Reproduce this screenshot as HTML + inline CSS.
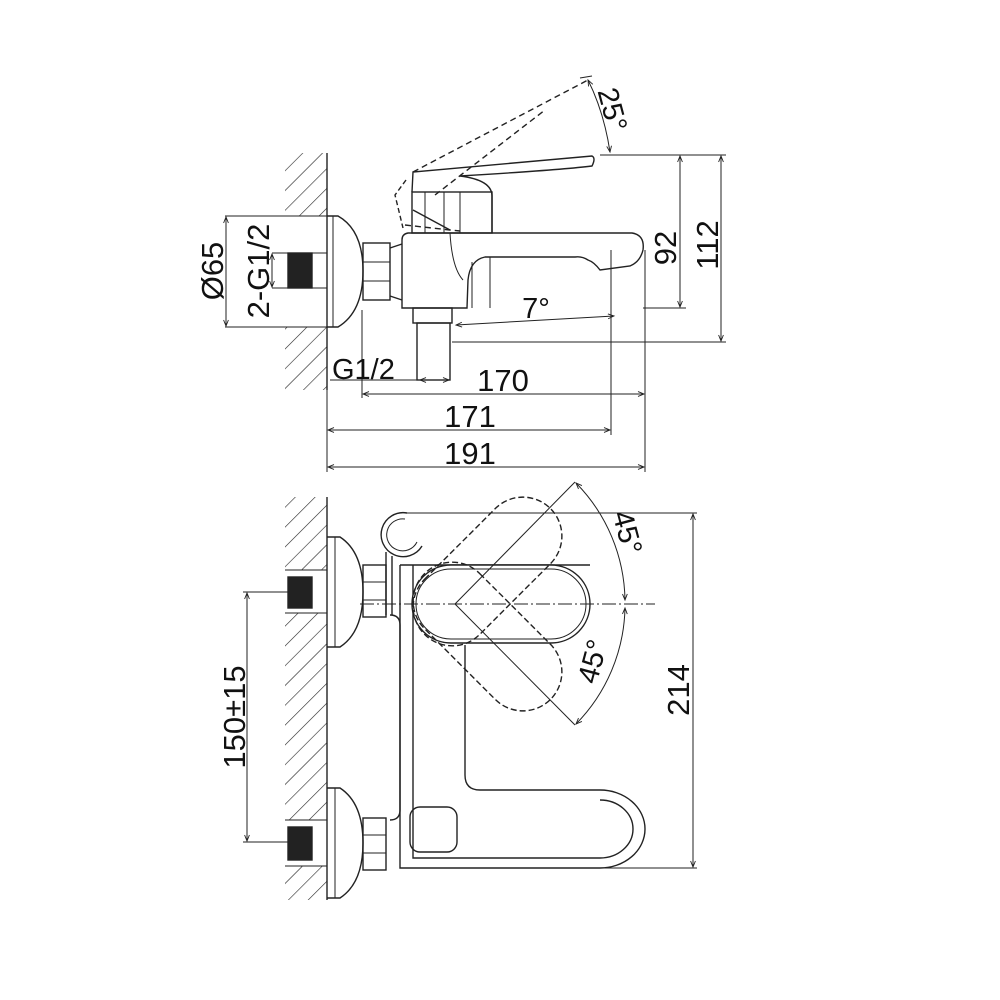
<!DOCTYPE html>
<html><head><meta charset="utf-8"><style>
html,body{margin:0;padding:0;background:#fff;}
svg{display:block}
text{font-family:"Liberation Sans",sans-serif;fill:#111;}
</style></head><body>
<svg width="1000" height="1000" viewBox="0 0 1000 1000" xmlns="http://www.w3.org/2000/svg">
<defs>
<pattern id="h" width="14" height="14" patternUnits="userSpaceOnUse" patternTransform="rotate(45)">
<line x1="0" y1="0" x2="0" y2="14" stroke="#222" stroke-width="1.2"/>
</pattern>
<marker id="a" viewBox="0 0 10 10" refX="10" refY="5" markerWidth="9" markerHeight="6" orient="auto-start-reverse"><path d="M0,1 L10,5 L0,9" fill="none" stroke="#222" stroke-width="1.5"/></marker>
</defs>
<g fill="none" stroke="#222" stroke-width="1.4">
<!-- ===== TOP VIEW ===== -->
<rect x="285" y="153" width="42" height="237" fill="url(#h)" stroke="none"/>
<rect x="285" y="216" width="42" height="111" fill="#fff" stroke="none"/>
<line x1="327" y1="153" x2="327" y2="390"/>
<line x1="285" y1="216" x2="327" y2="216" stroke-width="1"/>
<line x1="285" y1="327" x2="327" y2="327" stroke-width="1"/>
<line x1="272" y1="253" x2="327" y2="253" stroke-width="1"/>
<line x1="272" y1="288" x2="327" y2="288" stroke-width="1"/>
<rect x="288" y="253" width="24" height="35" fill="#222"/>
<path d="M327,216 L338,216 Q363,230 363,271 Q363,312 338,327 L327,327"/>
<line x1="333" y1="216" x2="333" y2="327" stroke-width="1"/>
<rect x="363" y="243" width="27" height="57"/>
<line x1="363" y1="262" x2="390" y2="262" stroke-width="1"/><line x1="363" y1="281" x2="390" y2="281" stroke-width="1"/>
<line x1="390" y1="248" x2="402" y2="244"/><line x1="390" y1="296" x2="402" y2="300"/>
<!-- body -->
<path d="M402,240 Q402,234 408,233 L632,233 Q645,235 643,250 Q640,262 630,266 L600,270 Q594,262 588,260 Q582,256 575,257 L485,257 Q470,260 468,280 L467,308 L402,308 Z"/>
<path d="M450,233 Q452,268 463,280" stroke-width="1"/>
<line x1="472" y1="262" x2="472" y2="308" stroke-width="1"/>
<line x1="490" y1="257" x2="490" y2="308" stroke-width="1"/>
<!-- cartridge & lever -->
<rect x="412" y="192" width="80" height="41"/>
<line x1="425" y1="192" x2="425" y2="233" stroke-width="1"/><line x1="444" y1="192" x2="444" y2="233" stroke-width="1"/><line x1="460" y1="192" x2="460" y2="233" stroke-width="1"/>
<path d="M412,192 L413,172 L592,156 Q596,158 592,166 Q560,170 460,176 Q492,180 492,196 L492,233 M413,210 L450,230"/>
<path d="M406,180 L395,195 L403,228" stroke-dasharray="5,3"/>
<path d="M413,172 L588,80 M435,195 L545,110 M405,225 L450,230 L460,231" stroke-dasharray="6,4"/>
<path d="M588,80 Q604,112 610,152" marker-start="url(#a)" marker-end="url(#a)" stroke-width="1"/>
<line x1="580" y1="78" x2="592" y2="76" stroke-width="1"/>
<!-- diverter -->
<rect x="413" y="308" width="39" height="15"/>
<rect x="417" y="323" width="33" height="57"/>
<!-- dims -->
<g stroke-width="1">
<line x1="600" y1="155" x2="726" y2="155"/>
<line x1="643" y1="308" x2="686" y2="308"/>
<line x1="452" y1="342" x2="726" y2="342"/>
<line x1="680" y1="156" x2="680" y2="307" marker-start="url(#a)" marker-end="url(#a)"/>
<line x1="721" y1="156" x2="721" y2="341" marker-start="url(#a)" marker-end="url(#a)"/>
<line x1="327" y1="390" x2="327" y2="472"/>
<line x1="362" y1="310" x2="362" y2="398"/>
<line x1="611" y1="250" x2="611" y2="435"/>
<line x1="645" y1="250" x2="645" y2="472"/>
<line x1="330" y1="380" x2="450" y2="380"/>
<line x1="420" y1="380" x2="449" y2="380" marker-start="url(#a)" marker-end="url(#a)"/>
<line x1="363" y1="394" x2="644" y2="394" marker-start="url(#a)" marker-end="url(#a)"/>
<line x1="328" y1="430" x2="610" y2="430" marker-start="url(#a)" marker-end="url(#a)"/>
<line x1="328" y1="467" x2="644" y2="467" marker-start="url(#a)" marker-end="url(#a)"/>
<line x1="456" y1="325" x2="614" y2="316" marker-start="url(#a)" marker-end="url(#a)"/>
<line x1="225" y1="216" x2="330" y2="216"/><line x1="225" y1="327" x2="330" y2="327"/>
<line x1="226" y1="217" x2="226" y2="326" marker-start="url(#a)" marker-end="url(#a)"/>
<line x1="272" y1="254" x2="272" y2="287" marker-start="url(#a)" marker-end="url(#a)"/>
</g>
<!-- ===== BOTTOM VIEW ===== -->
<rect x="285" y="497" width="42" height="403" fill="url(#h)" stroke="none"/>
<rect x="285" y="570" width="42" height="43" fill="#fff" stroke="none"/>
<rect x="285" y="820" width="42" height="46" fill="#fff" stroke="none"/>
<line x1="327" y1="497" x2="327" y2="900"/>
<line x1="285" y1="570" x2="327" y2="570" stroke-width="1"/><line x1="285" y1="613" x2="327" y2="613" stroke-width="1"/>
<line x1="285" y1="820" x2="327" y2="820" stroke-width="1"/><line x1="285" y1="866" x2="327" y2="866" stroke-width="1"/>
<rect x="288" y="577" width="24" height="31" fill="#222"/>
<rect x="288" y="827" width="24" height="33" fill="#222"/>
<path d="M327,537 L340,537 Q363,552 363,592 Q363,632 340,647 L327,647"/>
<path d="M327,788 L340,788 Q363,803 363,843 Q363,883 340,898 L327,898"/>
<line x1="335" y1="537" x2="335" y2="647" stroke-width="1"/><line x1="335" y1="788" x2="335" y2="898" stroke-width="1"/>
<rect x="363" y="565" width="23" height="52"/><rect x="363" y="818" width="23" height="52"/>
<line x1="363" y1="582" x2="386" y2="582" stroke-width="1"/><line x1="363" y1="600" x2="386" y2="600" stroke-width="1"/>
<line x1="363" y1="835" x2="386" y2="835" stroke-width="1"/><line x1="363" y1="853" x2="386" y2="853" stroke-width="1"/>
<!-- hook -->
<path d="M407,513 A22,22 0 1 0 422,546"/>
<path d="M405,519 A16,16 0 1 0 417,542" stroke-width="1"/>
<path d="M386,552 L386,615 M392,556 L392,615"/>
<path d="M390,615 Q400,615 400,625 L400,810 Q400,820 390,820"/>
<!-- body -->
<path d="M400,565 L590,565 M400,565 L400,868 L600,868 A45,39 0 0 0 600,790 L480,790 Q465,790 465,775 L465,645"/>
<path d="M413,565 L413,858 L600,858 A33,29 0 0 0 600,800"/>
<rect x="412" y="565" width="178" height="78" rx="39" fill="#fff"/>
<rect x="416" y="569" width="170" height="70" rx="35" stroke-width="1"/>
<rect x="410" y="807" width="47" height="45" rx="10"/>
<rect x="412" y="565" width="178" height="78" rx="39" transform="rotate(-45 455 604)" stroke-dasharray="6,3"/>
<rect x="412" y="565" width="178" height="78" rx="39" transform="rotate(45 455 604)" stroke-dasharray="6,3"/>
<line x1="455" y1="604" x2="575" y2="482" stroke-width="1"/>
<line x1="455" y1="604" x2="575" y2="725" stroke-width="1"/>
<line x1="360" y1="604" x2="655" y2="604" stroke-width="1" stroke-dasharray="14,3,2,3"/>
<path d="M576,483 A171,171 0 0 1 625,600" stroke-width="1" marker-start="url(#a)" marker-end="url(#a)"/>
<path d="M625,608 A171,171 0 0 1 576,724" stroke-width="1" marker-start="url(#a)" marker-end="url(#a)"/>
<g stroke-width="1">
<line x1="405" y1="513" x2="697" y2="513"/><line x1="600" y1="868" x2="697" y2="868"/>
<line x1="693" y1="514" x2="693" y2="867" marker-start="url(#a)" marker-end="url(#a)"/>
<line x1="243" y1="592" x2="300" y2="592"/><line x1="243" y1="842" x2="300" y2="842"/>
<line x1="247" y1="593" x2="247" y2="841" marker-start="url(#a)" marker-end="url(#a)"/>
</g>
</g>
<!-- text -->
<g font-size="31">
<text x="332" y="379" font-size="29">G1/2</text>
<text x="503" y="391" text-anchor="middle">170</text>
<text x="470" y="427" text-anchor="middle">171</text>
<text x="470" y="464" text-anchor="middle">191</text>
<text x="536" y="318" text-anchor="middle" font-size="29">7°</text>
<text transform="translate(676,248) rotate(-90)" text-anchor="middle">92</text>
<text transform="translate(718,245) rotate(-90)" text-anchor="middle">112</text>
<text transform="translate(223,271) rotate(-90)" text-anchor="middle">Ø65</text>
<text transform="translate(269,271) rotate(-90)" text-anchor="middle">2-G1/2</text>
<text transform="translate(603,112) rotate(75)" text-anchor="middle" font-size="29">25°</text>
<text transform="translate(618,535) rotate(75)" text-anchor="middle" font-size="29">45°</text>
<text transform="translate(602,664) rotate(-75)" text-anchor="middle" font-size="29">45°</text>
<text transform="translate(689,690) rotate(-90)" text-anchor="middle">214</text>
<text transform="translate(245,717) rotate(-90)" text-anchor="middle">150±15</text>
</g>
</svg>
</body></html>
